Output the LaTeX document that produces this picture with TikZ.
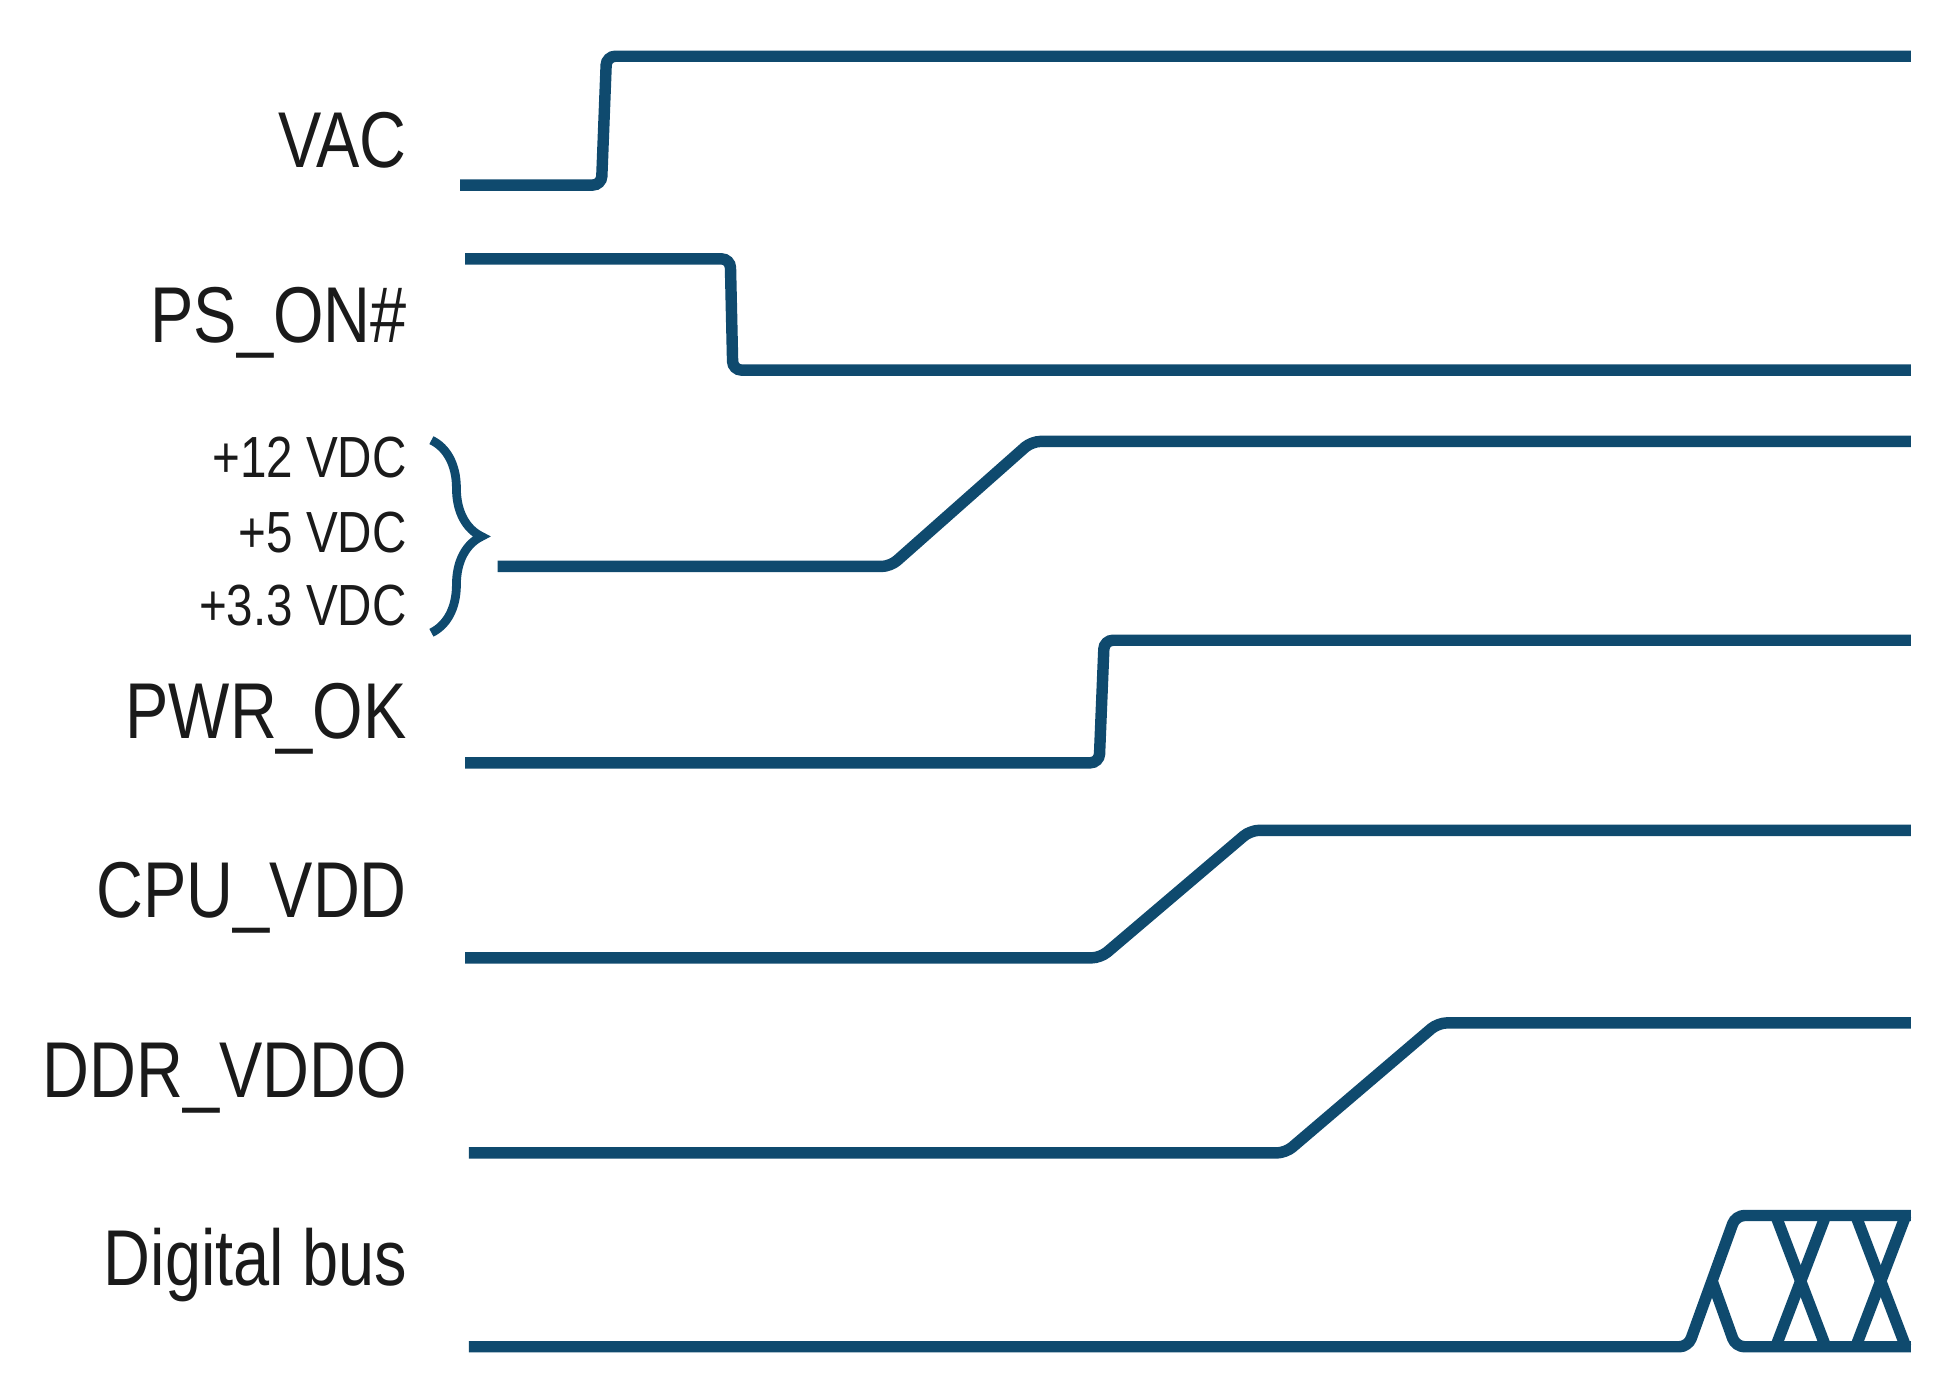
\documentclass[tikz,border=0pt]{standalone}
\usepackage{fontspec}
\setmainfont[FakeStretch=0.82]{Liberation Sans}
\usetikzlibrary{decorations.pathreplacing}
\definecolor{sig}{HTML}{0F4A6E}
\definecolor{txt}{HTML}{1A1A1A}
\begin{document}
\begin{tikzpicture}[x=0.01cm,y=-0.01cm,
  wave/.style={draw=sig,line width=2.6pt,rounded corners=2pt},
  lbl/.style={anchor=east,text=txt,font=\fontsize{18}{20}\selectfont,inner sep=0pt},
  slbl/.style={anchor=east,text=txt,font=\fontsize{13.2}{15}\selectfont,inner sep=0pt}]
\useasboundingbox (0,0) rectangle (1561,1119);
\node[lbl] (lvac) at (326,112) {VAC};
\node[lbl] (lps) at (326,258) {PS\_ON\#};
\node[slbl] (l12) at (326,366) {+12 VDC};
\node[slbl] (l5) at (326,426) {+5 VDC};
\node[slbl] (l33) at (326,484) {+3.3 VDC};
\node[lbl] (lpwr) at (326,575) {PWR\_OK};
\node[lbl] (lcpu) at (326,718) {CPU\_VDD};
\node[lbl] (lddr) at (326,862) {DDR\_VDDO};
\node[lbl] (lbus) at (326,1012) {Digital bus};
\coordinate (bt) at (345,352);
\coordinate (bb) at (345,506);
\draw[sig,line width=2pt,decorate,decoration={brace,amplitude=0.4cm}] (bt) -- (bb);
\draw[wave] (368,148) -- (481,148) -- (485,45) -- (1528,45);
\draw[wave] (372,207) -- (584,207) -- (586,296) -- (1528,296);
\draw[wave] (398,453) -- (712,453) -- (825,353) -- (1528,353);
\draw[wave] (372,610) -- (879,610) -- (883,512) -- (1528,512);
\draw[wave] (372,766) -- (880,766) -- (1000,664) -- (1528,664);
\draw[wave] (375,922) -- (1028,922) -- (1150,818) -- (1528,818);
\draw[wave] (375,1077) -- (1350,1077) -- (1388,972) -- (1528,972);
\draw[wave] (1369,1024) -- (1388,1077) -- (1528,1077);
\draw[wave,rounded corners=0pt] (1420,972) -- (1460,1077);
\draw[wave,rounded corners=0pt] (1420,1077) -- (1460,972);
\draw[wave,rounded corners=0pt] (1484,972) -- (1524,1077);
\draw[wave,rounded corners=0pt] (1484,1077) -- (1524,972);
\end{tikzpicture}
\end{document}
